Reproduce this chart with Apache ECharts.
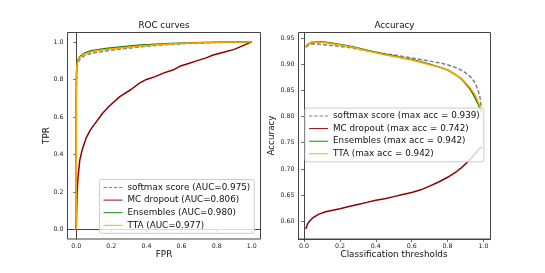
<!DOCTYPE html>
<html><head><meta charset="utf-8">
<script src="https://cdn.jsdelivr.net/npm/echarts@6/dist/echarts.min.js"></script>
<style>html,body{margin:0;padding:0;background:#fff}#c{width:545px;height:273px}</style>
</head><body><div id="c"></div>
<script>
// ROC data
const rocFpr = [0, 0, 0.002, 0.005, 0.01, 0.02, 0.03, 0.05, 0.08, 0.12, 0.18, 0.25, 0.35, 0.5, 0.65, 0.8, 0.9, 1.0];
const rocSoftmax = [0, 0.73, 0.835, 0.87, 0.89, 0.908, 0.918, 0.928, 0.937, 0.945, 0.953, 0.961, 0.972, 0.984, 0.992, 0.997, 0.999, 1];
const rocEnsembles = [0, 0.75, 0.85, 0.885, 0.905, 0.922, 0.932, 0.942, 0.951, 0.958, 0.966, 0.973, 0.982, 0.99, 0.995, 0.998, 0.999, 1];
const rocTTA = [0, 0.75, 0.85, 0.88, 0.9, 0.917, 0.927, 0.937, 0.946, 0.954, 0.961, 0.968, 0.977, 0.987, 0.994, 0.998, 0.999, 1];
const mcFpr = [0, 0.002, 0.005, 0.01, 0.02, 0.035, 0.057, 0.08, 0.115, 0.15, 0.19, 0.25, 0.31, 0.36, 0.40, 0.45, 0.50, 0.55, 0.59, 0.64, 0.69, 0.74, 0.78, 0.84, 0.90, 0.95, 1.0];
const mcTpr = [0, 0.1, 0.2, 0.28, 0.37, 0.43, 0.49, 0.53, 0.575, 0.62, 0.66, 0.71, 0.745, 0.78, 0.80, 0.815, 0.835, 0.85, 0.87, 0.885, 0.9, 0.915, 0.93, 0.945, 0.96, 0.98, 1.0];
const rocNames = ['softmax score (AUC=0.975)', 'MC dropout (AUC=0.806)', 'Ensembles (AUC=0.980)', 'TTA (AUC=0.977)'];

// Accuracy data
const thresholds = [0.01, 0.02, 0.03, 0.05, 0.08, 0.12, 0.16, 0.2, 0.25, 0.3, 0.35, 0.4, 0.45, 0.5, 0.55, 0.6, 0.65, 0.7, 0.75, 0.8, 0.85, 0.88, 0.91, 0.93, 0.95, 0.96, 0.97, 0.98, 0.99];
const accSoftmax = [0.933, 0.936, 0.938, 0.939, 0.9385, 0.937, 0.936, 0.934, 0.932, 0.929, 0.926, 0.923, 0.920, 0.918, 0.915, 0.912, 0.909, 0.906, 0.903, 0.899, 0.893, 0.888, 0.881, 0.875, 0.866, 0.859, 0.850, 0.838, 0.813];
const accMC = [0.585, 0.595, 0.600, 0.607, 0.613, 0.618, 0.621, 0.624, 0.628, 0.632, 0.636, 0.640, 0.643, 0.647, 0.651, 0.655, 0.660, 0.667, 0.675, 0.684, 0.695, 0.703, 0.713, 0.720, 0.728, 0.732, 0.736, 0.739, 0.742];
const accEnsembles = [0.933, 0.938, 0.941, 0.943, 0.943, 0.942, 0.940, 0.938, 0.935, 0.931, 0.927, 0.923, 0.919, 0.916, 0.912, 0.909, 0.905, 0.900, 0.895, 0.889, 0.879, 0.871, 0.859, 0.850, 0.838, 0.831, 0.824, 0.816, 0.808];
const accTTA = [0.934, 0.938, 0.941, 0.943, 0.9425, 0.941, 0.939, 0.937, 0.934, 0.930, 0.926, 0.922, 0.918, 0.915, 0.912, 0.908, 0.904, 0.899, 0.895, 0.889, 0.879, 0.872, 0.861, 0.853, 0.843, 0.836, 0.828, 0.820, 0.812];
const accNames = ['softmax score (max acc = 0.939)', 'MC dropout (max acc = 0.742)', 'Ensembles (max acc = 0.942)', 'TTA (max acc = 0.942)'];

const ticks01 = [0, 0.2, 0.4, 0.6, 0.8, 1.0];
const accTicks = [0.60, 0.65, 0.70, 0.75, 0.80, 0.85, 0.90, 0.95];

const FONT = 'DejaVu Sans';
const colors = ['#808080', '#8b0000', '#008000', '#ffa500'];
const zip = (a, b) => a.map((v, i) => [v, b[i]]);
const SOLID_ICON = 'path://M0,0H20V1H0Z';
const DASH_ICON = 'path://M0,0H3.5V1H0Z M5.5,0H9V1H5.5Z M11,0H14.5V1H11Z M16.5,0H20V1H16.5Z';

function axis(min, max, ticks, dec, type) {
  return {
    type: 'value', min: min, max: max, gridIndex: type,
    axisLine: {show: true, lineStyle: {color: '#444', width: 1}},
    axisTick: {show: true, length: 3, customValues: ticks, lineStyle: {color: '#444', width: 0.8}},
    axisLabel: {show: true, customValues: ticks, margin: 4, fontSize: 6.3, fontFamily: FONT, color: '#222',
      formatter: v => Number(v).toFixed(dec)},
    splitLine: {show: false}
  };
}

function line(name, data, ci, xi, dashed) {
  return {
    type: 'line', name: name, data: data, xAxisIndex: xi, yAxisIndex: xi,
    showSymbol: false, symbol: 'none', smooth: false,
    lineStyle: {color: colors[ci], width: 1.5, type: dashed ? [4, 2] : 'solid'},
    itemStyle: {color: colors[ci]},
    emphasis: {disabled: true}
  };
}

function legend(names, left, top) {
  return {
    data: names.map((n, i) => ({name: n, icon: i === 0 ? DASH_ICON : SOLID_ICON})),
    orient: 'vertical', left: left, top: top,
    padding: [3, 4, 3, 4], itemWidth: 19, itemHeight: 1.6, itemGap: 2.6,
    textStyle: {fontSize: 8.8, fontFamily: FONT, color: '#111', lineHeight: 10},
    backgroundColor: 'rgba(255,255,255,0.8)', borderColor: '#cccccc', borderWidth: 1, borderRadius: 2,
    selectedMode: false
  };
}

const chart = echarts.init(document.getElementById('c'), null, {renderer: 'canvas'});
chart.setOption({
  animation: false,
  backgroundColor: '#fff',
  grid: [
    {left: 67.5, top: 32.5, width: 193, height: 206.5, show: true, borderColor: '#444', borderWidth: 1, backgroundColor: 'transparent'},
    {left: 298.5, top: 32.5, width: 192, height: 206.5, show: true, borderColor: '#444', borderWidth: 1, backgroundColor: 'transparent'}
  ],
  xAxis: [axis(-0.05, 1.05, ticks01, 1, 0), axis(-0.031, 1.039, ticks01, 1, 1)],
  yAxis: [axis(-0.05, 1.05, ticks01, 1, 0), axis(0.566, 0.9607, accTicks, 2, 1)],
  legend: [legend(rocNames, 99.5, 179.5), legend(accNames, 305, 108)],
  series: [
    line(rocNames[0], zip(rocFpr, rocSoftmax), 0, 0, true),
    line(rocNames[1], zip(mcFpr, mcTpr), 1, 0, false),
    line(rocNames[2], zip(rocFpr, rocEnsembles), 2, 0, false),
    line(rocNames[3], zip(rocFpr, rocTTA), 3, 0, false),
    line(accNames[0], zip(thresholds, accSoftmax), 0, 1, true),
    line(accNames[1], zip(thresholds, accMC), 1, 1, false),
    line(accNames[2], zip(thresholds, accEnsembles), 2, 1, false),
    line(accNames[3], zip(thresholds, accTTA), 3, 1, false)
  ],
  graphic: [
    {type: 'text', x: 164, y: 26, style: {text: 'ROC curves', font: '8.8px "DejaVu Sans"', fill: '#111', align: 'center', verticalAlign: 'middle'}},
    {type: 'text', x: 394.5, y: 26, style: {text: 'Accuracy', font: '8.8px "DejaVu Sans"', fill: '#111', align: 'center', verticalAlign: 'middle'}},
    {type: 'text', x: 164, y: 255, style: {text: 'FPR', font: '8.8px "DejaVu Sans"', fill: '#111', align: 'center', verticalAlign: 'middle'}},
    {type: 'text', x: 394, y: 255, style: {text: 'Classification thresholds', font: '8.8px "DejaVu Sans"', fill: '#111', align: 'center', verticalAlign: 'middle'}},
    {type: 'text', x: 46.7, y: 135.5, rotation: Math.PI / 2, style: {text: 'TPR', font: '8.8px "DejaVu Sans"', fill: '#111', align: 'center', verticalAlign: 'middle'}},
    {type: 'text', x: 271.5, y: 135.5, rotation: Math.PI / 2, style: {text: 'Accuracy', font: '8.8px "DejaVu Sans"', fill: '#111', align: 'center', verticalAlign: 'middle'}}
  ]
});
</script></body></html>
